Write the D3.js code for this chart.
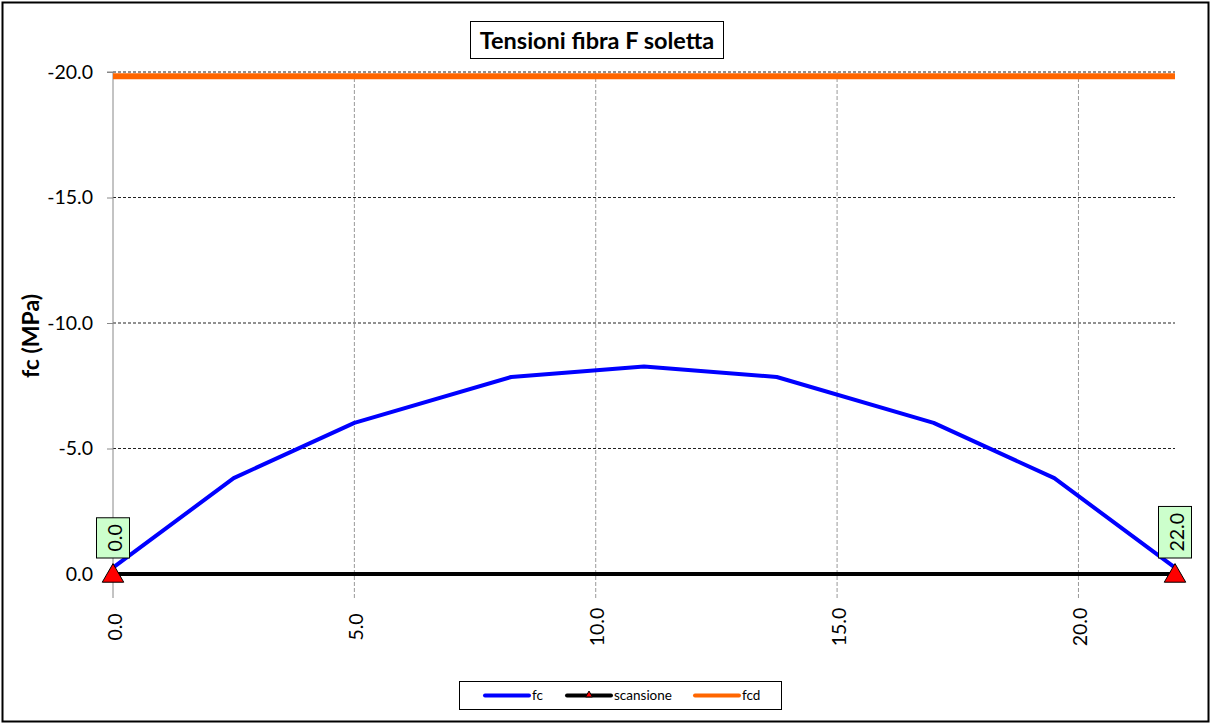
<!DOCTYPE html>
<html><head><meta charset="utf-8">
<script src="https://cdn.jsdelivr.net/npm/d3@7"></script>
<style>body{margin:0;background:#fff;} svg{display:block;font-family:Lato,"Liberation Sans",sans-serif;}</style>
</head><body>
<svg id="c" width="1212" height="727"></svg>
<script>
const fcX = [0, 2.5, 5, 8.25, 11, 13.75, 17, 19.5, 22];
const fcY = [-0.25, -3.82, -6.02, -7.85, -8.27, -7.85, -6.02, -3.82, -0.25];
const scansioneX = [0, 22];
const scansioneY = [0, 0];
const fcdX = [0, 22];
const fcdY = [-19.83, -19.83];
const xTicks = [0, 5, 10, 15, 20];
const yTicks = [0, -5, -10, -15, -20];
const endLabels = ["0.0", "22.0"];
const title = "Tensioni fibra F soletta";
const yTitle = "fc (MPa)";
const legendNames = ["fc", "scansione", "fcd"];

const fmt = d => d.toFixed(1);
const svg = d3.select("#c");
const x = d3.scaleLinear().domain([0, 22]).range([113, 1175]);
const y = d3.scaleLinear().domain([0, -20]).range([574, 72]);

// outer border
svg.append("rect").attr("x", 2.5).attr("y", 2.5).attr("width", 1206).attr("height", 719)
  .attr("fill", "#fff").attr("stroke", "#000").attr("stroke-width", 2);

// horizontal gridlines
svg.append("g").selectAll("line").data(yTicks.filter(d => d !== 0)).join("line")
  .attr("x1", x(0)).attr("x2", x(22)).attr("y1", d => y(d)).attr("y2", d => y(d))
  .attr("stroke", "#222").attr("stroke-width", 1).attr("stroke-dasharray", "3,2");

// vertical gridlines
svg.append("g").selectAll("line").data(xTicks.filter(d => d !== 0)).join("line")
  .attr("x1", d => x(d)).attr("x2", d => x(d)).attr("y1", y(-20)).attr("y2", 598)
  .attr("stroke", "#999").attr("stroke-width", 1).attr("stroke-dasharray", "4,2");

// y axis
const yAxis = d3.axisLeft(y).tickValues(yTicks).tickFormat(fmt).tickSize(6).tickPadding(14);
const gy = svg.append("g").attr("transform", `translate(${x(0)},0)`).call(yAxis);
gy.select(".domain").attr("stroke", "#888").attr("d", `M-6,${y(-20)}H0V598`);
gy.selectAll(".tick line").attr("stroke", "#888");
gy.selectAll("text").attr("font-size", 19.5).attr("fill", "#000").attr("font-family", "Lato");

// x tick labels (rotated)
svg.append("g").selectAll("text").data(xTicks).join("text")
  .attr("transform", d => `translate(${x(d) + 1},${627}) rotate(-90)`)
  .attr("text-anchor", "middle").attr("dominant-baseline", "central")
  .attr("font-size", 19.5).attr("font-family", "Lato")
  .text(fmt);

// y axis title
svg.append("text").attr("transform", `translate(30,336) rotate(-90)`)
  .attr("text-anchor", "middle").attr("dominant-baseline", "central").attr("font-size", 23).attr("font-weight", "bold")
  .attr("font-family", "Lato").text(yTitle);

const line = d3.line().x(d => x(d[0])).y(d => y(d[1]));

// fcd
svg.append("path").datum(fcdX.map((v, i) => [v, fcdY[i]])).attr("d", line)
  .attr("fill", "none").attr("stroke", "#ff6600").attr("stroke-width", 6);

// scansione
svg.append("path").datum(scansioneX.map((v, i) => [v, scansioneY[i]])).attr("d", line)
  .attr("fill", "none").attr("stroke", "#000").attr("stroke-width", 4);

// fc
svg.append("path").datum(fcX.map((v, i) => [v, fcY[i]])).attr("d", line)
  .attr("fill", "none").attr("stroke", "#0000ff").attr("stroke-width", 4).attr("stroke-linejoin", "round");

// triangles
const tri = d3.symbol().type(d3.symbolTriangle).size(200);
svg.append("g").selectAll("path").data(scansioneX.map((v, i) => [v, scansioneY[i]])).join("path")
  .attr("d", tri).attr("transform", d => `translate(${x(d[0])},${y(d[1]) + 2})`)
  .attr("fill", "#ff0000").attr("stroke", "#000").attr("stroke-width", 1);

// end labels
const lab = svg.append("g").selectAll("g").data(scansioneX.map((v, i) => [v, endLabels[i]])).join("g")
  .attr("transform", d => `translate(${x(d[0])},${y(0) - 16})`);
lab.each(function(d) {
  const g = d3.select(this);
  const t = g.append("text").attr("transform", "rotate(-90)").attr("x", 0).attr("y", 1)
    .attr("text-anchor", "start").attr("dominant-baseline", "central").attr("font-size", 19.5)
    .attr("font-family", "Lato").text(d[1]);
  const bb = t.node().getBBox();
  const w = 33, h = bb.width + 13;
  g.insert("rect", "text").attr("x", -w / 2).attr("y", -h).attr("width", w).attr("height", h)
    .attr("fill", "#ccffcc").attr("stroke", "#000").attr("stroke-width", 1);
  t.attr("x", 6.5);
});

// title
const tw = 253;
svg.append("rect").attr("x", 470.5).attr("y", 21.5).attr("width", tw).attr("height", 37)
  .attr("fill", "#fff").attr("stroke", "#000").attr("stroke-width", 1);
svg.append("text").attr("x", 470.5 + tw / 2).attr("y", 48.5).attr("text-anchor", "middle")
  .attr("font-size", 23.5).attr("font-weight", "bold").attr("font-family", "Lato").text(title);

// legend
const lg = svg.append("g");
lg.append("rect").attr("x", 459.5).attr("y", 681.5).attr("width", 322).attr("height", 28)
  .attr("fill", "#fff").attr("stroke", "#000").attr("stroke-width", 1);
const lcol = ["#0000ff", "#000", "#ff6600"];
const lx = [485, 567, 695];
legendNames.forEach((n, i) => {
  lg.append("line").attr("x1", lx[i]).attr("x2", lx[i] + 44).attr("y1", 695.5).attr("y2", 695.5)
    .attr("stroke", lcol[i]).attr("stroke-width", 4).attr("stroke-linecap", "round");
  if (i === 1) {
    lg.append("path").attr("d", d3.symbol().type(d3.symbolTriangle).size(20))
      .attr("transform", `translate(${lx[i] + 22},695)`).attr("fill", "#ff0000").attr("stroke", "#000").attr("stroke-width", 1);
  }
  lg.append("text").attr("x", lx[i] + 47).attr("y", 700).attr("font-size", 13.5)
    .attr("font-family", "Lato").text(n);
});
</script>
</body></html>
